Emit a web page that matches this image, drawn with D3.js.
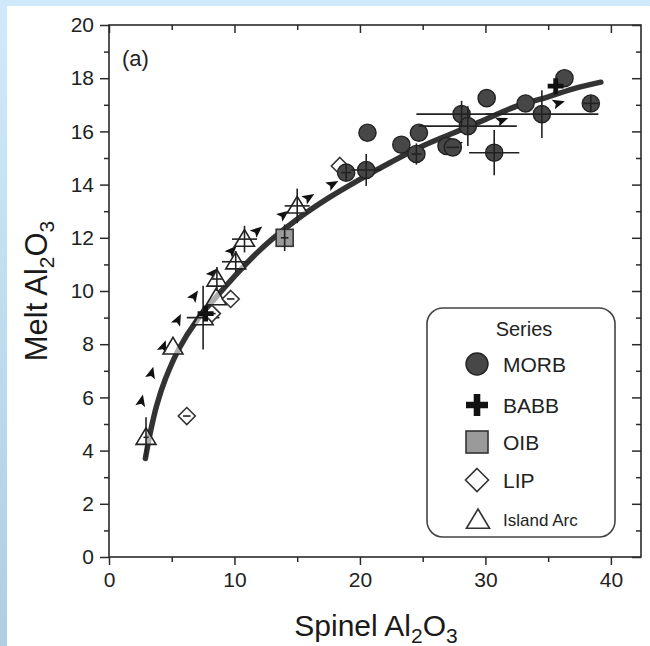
<!DOCTYPE html>
<html><head><meta charset="utf-8">
<script src="https://cdn.jsdelivr.net/npm/d3@7"></script>
<style>html,body{margin:0;padding:0;background:#fff;}svg{display:block;}</style>
</head><body>
<script>
// ---------- data ----------
const morbX    = [20.6, 20.5, 18.9, 23.3, 24.7, 24.5, 26.9, 27.4, 28.1, 28.6, 30.1, 30.7, 33.2, 34.5, 36.3, 38.4];
const morbY    = [15.95,14.55,14.45,15.5, 15.95,15.15,15.45,15.4, 16.65,16.2, 17.25,15.2, 17.05,16.65,18.0, 17.05];
const morbXerr = [0,    1.2,  0.4,  0,    0,    0.4,  0,    0.5,  3.6,  3.9,  0,    2.0,  0,    4.5,  0,    0.6];
const morbYerr = [0,    0.6,  0.3,  0,    0,    0.4,  0,    0,    0.5,  0.75, 0,    0.85, 0,    0.9,  0,    0.3];

const babbX = [35.6, 7.7];
const babbY = [17.7, 9.15];

const oibX = [14.0], oibY = [12.0], oibXerr = [0.3], oibYerr = [0.5];

const lipX = [6.2, 8.2, 9.7, 18.4];
const lipY = [5.3, 9.15, 9.7, 14.7];
const lipXerr = [0.3, 0.3, 0.3, 0];

const arcX    = [2.95, 5.1, 7.5, 8.55, 8.6,  10.1, 10.8, 15.0];
const arcY    = [4.5,  7.9, 9.0, 9.75, 10.45,11.1, 11.95,13.2];
const arcXerr = [0.2,  0,   1.3, 0,    0.4,  1.1,  1.0,  1.0];
const arcYerr = [0.75, 0,   1.2, 0,    0.45, 0.4,  0.5,  0.65];

const arrowX = [2.6, 3.4, 4.35, 5.5, 6.8, 8.3, 9.8, 11.8, 13.9, 15.9, 17.8, 27.7, 31.3, 35.8];
const arrowY = [5.85,6.9, 7.9,  8.9, 9.8, 10.65,11.5,12.25,12.85,13.5, 14.0, 15.5, 16.4, 17.05];

const fitX = [2.9, 3.3, 3.8, 4.5, 5.6, 7.0, 8.5, 10, 11.5, 13, 15, 17.5, 20, 22.5, 25, 27.5, 30, 32.5, 35, 37, 39.2];
const fitY = [3.7, 4.7, 5.7, 6.7, 7.85,8.9, 9.75,10.55,11.3,11.95,12.7,13.5,14.2,14.85,15.45,15.95,16.45,16.95,17.3,17.6,17.85];

const xTicks = [0, 10, 20, 30, 40];
const yTicks = [0, 2, 4, 6, 8, 10, 12, 14, 16, 18, 20];
const legendLabels = ["MORB", "BABB", "OIB", "LIP", "Island Arc"];

// ---------- drawing ----------
const W = 650, H = 646;
const svg = d3.select("body").append("svg").attr("width", W).attr("height", H);
const defs = svg.append("defs");
const lg = defs.append("linearGradient").attr("id","bg").attr("x1",0).attr("y1",0).attr("x2",0).attr("y2",1);
lg.append("stop").attr("offset","0%").attr("stop-color","#cfeafc");
lg.append("stop").attr("offset","100%").attr("stop-color","#b0cde2");
svg.append("rect").attr("width",W).attr("height",H).attr("fill","url(#bg)");
svg.append("rect").attr("x",7).attr("y",6).attr("width",W-7).attr("height",H-6).attr("fill","#fff");

const L = 109, R = 641, T = 25, B = 557;
const x = d3.scaleLinear().domain([0, 42.4]).range([L, R]);
const y = d3.scaleLinear().domain([0, 20]).range([B, T]);
const FONT = "'Liberation Sans', Arial, sans-serif";
const ink = "#2a2a2a";

// axes
const gB = svg.append("g").attr("transform",`translate(0,${B})`)
  .call(d3.axisBottom(x).tickValues(xTicks).tickSize(8).tickPadding(7).tickFormat(d3.format("d")));
const gBm = svg.append("g").attr("transform",`translate(0,${B})`)
  .call(d3.axisBottom(x).tickValues([5,15,25,35]).tickSize(5).tickFormat(""));
const gL = svg.append("g").attr("transform",`translate(${L},0)`)
  .call(d3.axisLeft(y).tickValues(yTicks).tickSize(9).tickPadding(6).tickFormat(d3.format("d")));
const gLm = svg.append("g").attr("transform",`translate(${L},0)`)
  .call(d3.axisLeft(y).tickValues(d3.range(1,20,2)).tickSize(5).tickFormat(""));
const gT = svg.append("g").attr("transform",`translate(0,${T})`)
  .call(d3.axisTop(x).tickValues(xTicks).tickSize(-8).tickFormat(""));
const gTm = svg.append("g").attr("transform",`translate(0,${T})`)
  .call(d3.axisTop(x).tickValues([5,15,25,35]).tickSize(-5).tickFormat(""));
const gR = svg.append("g").attr("transform",`translate(${R},0)`)
  .call(d3.axisRight(y).tickValues(yTicks).tickSize(-9).tickFormat(""));
const gRm = svg.append("g").attr("transform",`translate(${R},0)`)
  .call(d3.axisRight(y).tickValues(d3.range(1,20,2)).tickSize(-5).tickFormat(""));
[gB,gBm,gL,gLm,gT,gTm,gR,gRm].forEach(g => {
  g.select(".domain").remove();
  g.selectAll(".tick line").attr("stroke", ink).attr("stroke-width", 1.5);
  g.selectAll("text").attr("font-family", FONT).attr("font-size", 21).attr("fill", "#222");
});
// frame
svg.append("rect").attr("x",L).attr("y",T).attr("width",R-L).attr("height",B-T)
  .attr("fill","none").attr("stroke",ink).attr("stroke-width",1.6);

// axis titles
const xt = svg.append("text").attr("x", 376).attr("y", 636).attr("text-anchor","middle")
  .attr("font-family",FONT).attr("font-size",30).attr("fill","#1a1a1a");
xt.append("tspan").text("Spinel Al");
xt.append("tspan").text("2").attr("font-size",21).attr("dy",7);
xt.append("tspan").text("O").attr("dy",-7);
xt.append("tspan").text("3").attr("font-size",21).attr("dy",7);

const yt = svg.append("text").attr("transform","translate(47,291) rotate(-90)").attr("text-anchor","middle")
  .attr("font-family",FONT).attr("font-size",31).attr("fill","#1a1a1a");
yt.append("tspan").text("Melt Al");
yt.append("tspan").text("2").attr("font-size",21).attr("dy",7);
yt.append("tspan").text("O").attr("dy",-7);
yt.append("tspan").text("3").attr("font-size",21).attr("dy",7);

svg.append("text").attr("x",122).attr("y",66).attr("font-family",FONT).attr("font-size",22)
  .attr("fill","#222").text("(a)");

// fit curve
const fit = fitX.map((v,i)=>[v, fitY[i]]);
const line = d3.line().x(d=>x(d[0])).y(d=>y(d[1])).curve(d3.curveCatmullRom.alpha(0.5));
svg.append("path").attr("d", line(fit)).attr("fill","none").attr("stroke","#333")
  .attr("stroke-width",5.5).attr("stroke-linecap","round");

// arrowheads oriented along local curve direction
function slopeAngle(v){
  let i = d3.bisectLeft(fitX, v); i = Math.max(1, Math.min(fitX.length-1, i));
  const dx = x(fitX[i]) - x(fitX[i-1]), dy = y(fitY[i]) - y(fitY[i-1]);
  return Math.atan2(dy, dx) * 180 / Math.PI;
}
svg.append("g").selectAll("path").data(arrowX.map((v,i)=>[v, arrowY[i]])).join("path")
  .attr("d","M7,0 L-5,-5.5 L-2.5,0 L-5,4.5 Z")
  .attr("transform", d => `translate(${x(d[0])},${y(d[1])}) rotate(${slopeAngle(d[0])})`)
  .attr("fill","#111");

// error bars helper
function errBars(g, xs, ys, xe, ye){
  xs.forEach((v,i)=>{
    const ex = xe ? xe[i] : 0, ey = ye ? ye[i] : 0;
    if (ex > 0) g.append("line").attr("x1",x(v-ex)).attr("x2",x(v+ex)).attr("y1",y(ys[i])).attr("y2",y(ys[i]))
      .attr("stroke","#222").attr("stroke-width",1.6);
    if (ey > 0) g.append("line").attr("x1",x(v)).attr("x2",x(v)).attr("y1",y(ys[i]-ey)).attr("y2",y(ys[i]+ey))
      .attr("stroke","#222").attr("stroke-width",1.6);
  });
}

function triPath(r){ return `M0,${-r} L${r*1.05},${r*0.75} L${-r*1.05},${r*0.75} Z`; }
function diaPath(r){ return `M0,${-r} L${r},0 L0,${r} L${-r},0 Z`; }
function plusPath(r,w){ return `M${-w},${-r}H${w}V${-w}H${r}V${w}H${w}V${r}H${-w}V${w}H${-r}V${-w}H${-w}Z`; }

// Island Arc
const gArc = svg.append("g");
gArc.selectAll("path").data(arcX.map((v,i)=>[v, arcY[i]])).join("path")
  .attr("d", triPath(9.5)).attr("transform", d=>`translate(${x(d[0])},${y(d[1])})`)
  .attr("fill","#fff").attr("fill-opacity",0.6).attr("stroke","#222").attr("stroke-width",1.6);
errBars(gArc, arcX, arcY, arcXerr, arcYerr);

// LIP
const gLip = svg.append("g");
gLip.selectAll("path").data(lipX.map((v,i)=>[v, lipY[i]])).join("path")
  .attr("d", diaPath(8.5)).attr("transform", d=>`translate(${x(d[0])},${y(d[1])})`)
  .attr("fill","#fff").attr("stroke","#333").attr("stroke-width",1.6);
errBars(gLip, lipX, lipY, lipXerr, null);

// OIB
const gOib = svg.append("g");
gOib.selectAll("rect").data(oibX.map((v,i)=>[v, oibY[i]])).join("rect")
  .attr("x", d=>x(d[0])-8.5).attr("y", d=>y(d[1])-8.5).attr("width",17).attr("height",17)
  .attr("fill","#9a9a9a").attr("stroke","#333").attr("stroke-width",1.6);
errBars(gOib, oibX, oibY, oibXerr, oibYerr);

// MORB
const gM = svg.append("g");
gM.selectAll("circle").data(morbX.map((v,i)=>[v, morbY[i]])).join("circle")
  .attr("cx", d=>x(d[0])).attr("cy", d=>y(d[1])).attr("r", 8.6)
  .attr("fill","#474747").attr("stroke","#222").attr("stroke-width",1.4);
errBars(gM, morbX, morbY, morbXerr, morbYerr);

// BABB
svg.append("g").selectAll("path").data(babbX.map((v,i)=>[v, babbY[i]])).join("path")
  .attr("d", plusPath(8, 2.4)).attr("transform", d=>`translate(${x(d[0])},${y(d[1])})`)
  .attr("fill","#111");

// legend
const leg = svg.append("g");
leg.append("rect").attr("x",427).attr("y",308).attr("width",188).attr("height",229).attr("rx",16)
  .attr("fill","#fff").attr("stroke","#444").attr("stroke-width",1.6);
leg.append("text").attr("x",524).attr("y",336).attr("text-anchor","middle")
  .attr("font-family",FONT).attr("font-size",20).attr("fill","#222").text("Series");
const legY = [364, 405, 442, 480, 520];
const mx = 477;
leg.append("circle").attr("cx",mx).attr("cy",legY[0]).attr("r",11).attr("fill","#474747").attr("stroke","#222").attr("stroke-width",1.4);
leg.append("path").attr("d",plusPath(11,3.3)).attr("transform",`translate(${mx},${legY[1]})`).attr("fill","#111");
leg.append("rect").attr("x",mx-11).attr("y",legY[2]-11).attr("width",22).attr("height",22)
  .attr("fill","#9a9a9a").attr("stroke","#333").attr("stroke-width",1.6);
leg.append("path").attr("d",diaPath(11.5)).attr("transform",`translate(${mx},${legY[3]})`)
  .attr("fill","#fff").attr("stroke","#333").attr("stroke-width",1.6);
leg.append("path").attr("d",triPath(11)).attr("transform",`translate(${mx+1},${legY[4]})`)
  .attr("fill","#fff").attr("stroke","#333").attr("stroke-width",1.6);
leg.selectAll("text.lab").data(legendLabels).join("text").attr("class","lab")
  .attr("x",503).attr("y",(d,i)=>legY[i] + (i===4 ? 6 : 8))
  .attr("font-family",FONT).attr("font-size",(d,i)=> i===4 ? 17 : 21).attr("fill","#222").text(d=>d);
</script>
</body></html>
